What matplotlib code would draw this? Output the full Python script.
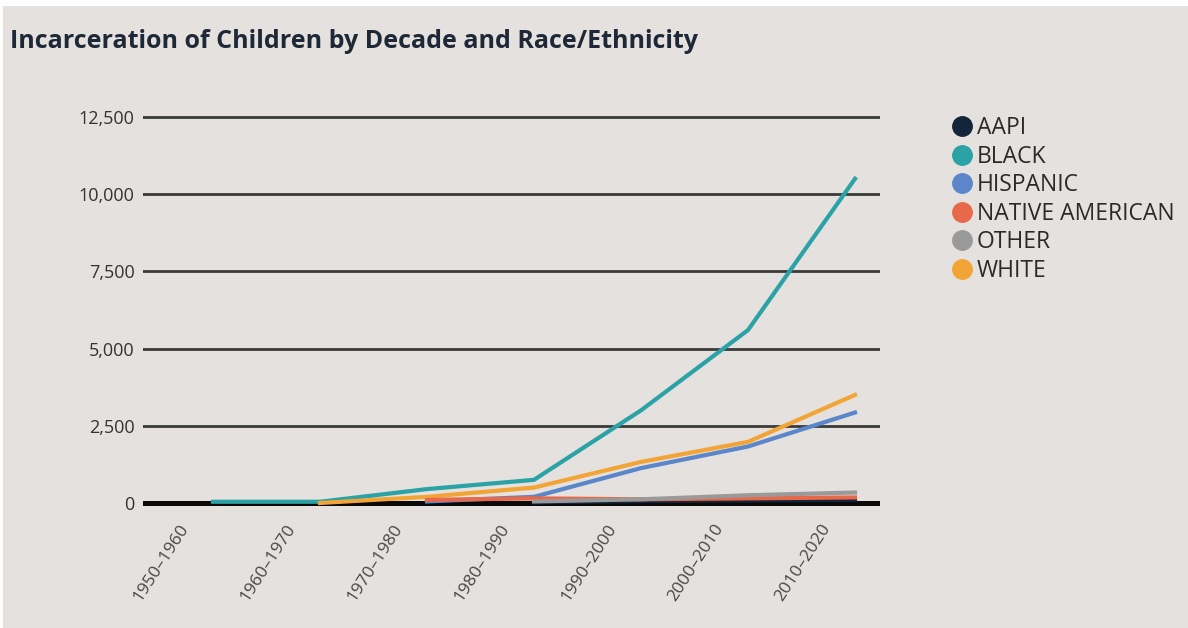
import numpy as np
import matplotlib.pyplot as plt
import matplotlib.transforms as mtransforms
from matplotlib.lines import Line2D
from matplotlib.patches import Rectangle

# Data: children incarcerated per decade, by race/ethnicity
decades = ['1950–1960', '1960–1970', '1970–1980', '1980–1990',
           '1990–2000', '2000–2010', '2010–2020']
nan = np.nan
aapi = [nan, nan, nan, 20, 60, 80, 100]
black = [40, 40, 450, 750, 3000, 5600, 10500]
hispanic = [nan, nan, 50, 200, 1130, 1830, 2930]
native_american = [nan, nan, 100, 150, 120, 150, 180]
other = [nan, nan, nan, 50, 120, 250, 340]
white = [nan, 0, 200, 500, 1330, 1980, 3500]

groups = ['AAPI', 'BLACK', 'HISPANIC', 'NATIVE AMERICAN', 'OTHER', 'WHITE']
series = [aapi, black, hispanic, native_american, other, white]
colors = ['#14243a', '#2ba2a5', '#5b86c9', '#e8694a', '#9a9a9a', '#f2a536']
zorders = [3.4, 3.1, 3.2, 3.5, 3.6, 3.3]

BG = '#e4e1de'
plt.rcParams['font.family'] = ['Open Sans', 'DejaVu Sans']

fig = plt.figure(figsize=(11.88, 6.28), dpi=100, facecolor='white')
W, H = 1188, 628
fig.patches.append(Rectangle((3 / W, 0), 1, 1 - 6 / H, transform=fig.transFigure,
                             facecolor=BG, edgecolor='none', zorder=-5))

ax = fig.add_axes([143 / W, 1 - 510 / H, (880 - 143) / W, 400 / H])
ax.set_zorder(1)
ax.set_facecolor('none')

x = np.arange(len(decades))
for name, vals, c, z in zip(groups, series, colors, zorders):
    ax.plot(x, vals, color=c, lw=3.0, zorder=z, label=name)

ax.set_xlim(-70 / 107, (880 - 213) / 107)
ax.set_ylim(-227, 12727)

yticks = [0, 2500, 5000, 7500, 10000, 12500]
ax.set_yticks(yticks)
ax.set_yticklabels([f'{v:,}' for v in yticks])
for v in yticks[1:]:
    ax.axhline(v, color='#3a3a3a', lw=2.0, zorder=1)
ax.axhline(0, color='#0a0a0a', lw=3.6, zorder=2)

# decade labels, slanted and set a little to the left of each point
ax.set_xticks(x)
ax.set_xticklabels([])
shift = mtransforms.ScaledTranslation(-20 / 72, -11 / 72, fig.dpi_scale_trans)
for xi, lab in zip(x, decades):
    ax.text(xi, 0, lab, transform=ax.get_xaxis_transform() + shift,
            rotation=57, rotation_mode='anchor', ha='right', va='center',
            fontsize=12.5, color='#474747')

ax.tick_params(axis='both', length=0)
ax.tick_params(axis='y', labelsize=13, labelcolor='#333333', pad=6)
for s in ax.spines.values():
    s.set_visible(False)

fig.text(10 / W, 1 - 42 / H, 'Incarceration of Children by Decade and Race/Ethnicity',
         fontsize=18, fontweight='bold', color='#1e2837', va='center', ha='left')

handles = [Line2D([], [], marker='o', linestyle='', markersize=14, color=c)
           for c in colors]
leg = fig.legend(handles, groups, loc='upper left',
                 bbox_to_anchor=(953 / W, 1 - 116 / H), frameon=False,
                 fontsize=16.5, handlelength=0.75, handletextpad=0.3,
                 labelspacing=0.2, borderpad=0, borderaxespad=0)
for t in leg.get_texts():
    t.set_color('#2a2a2a')

fig.savefig('out.png', dpi=100, facecolor='white')
